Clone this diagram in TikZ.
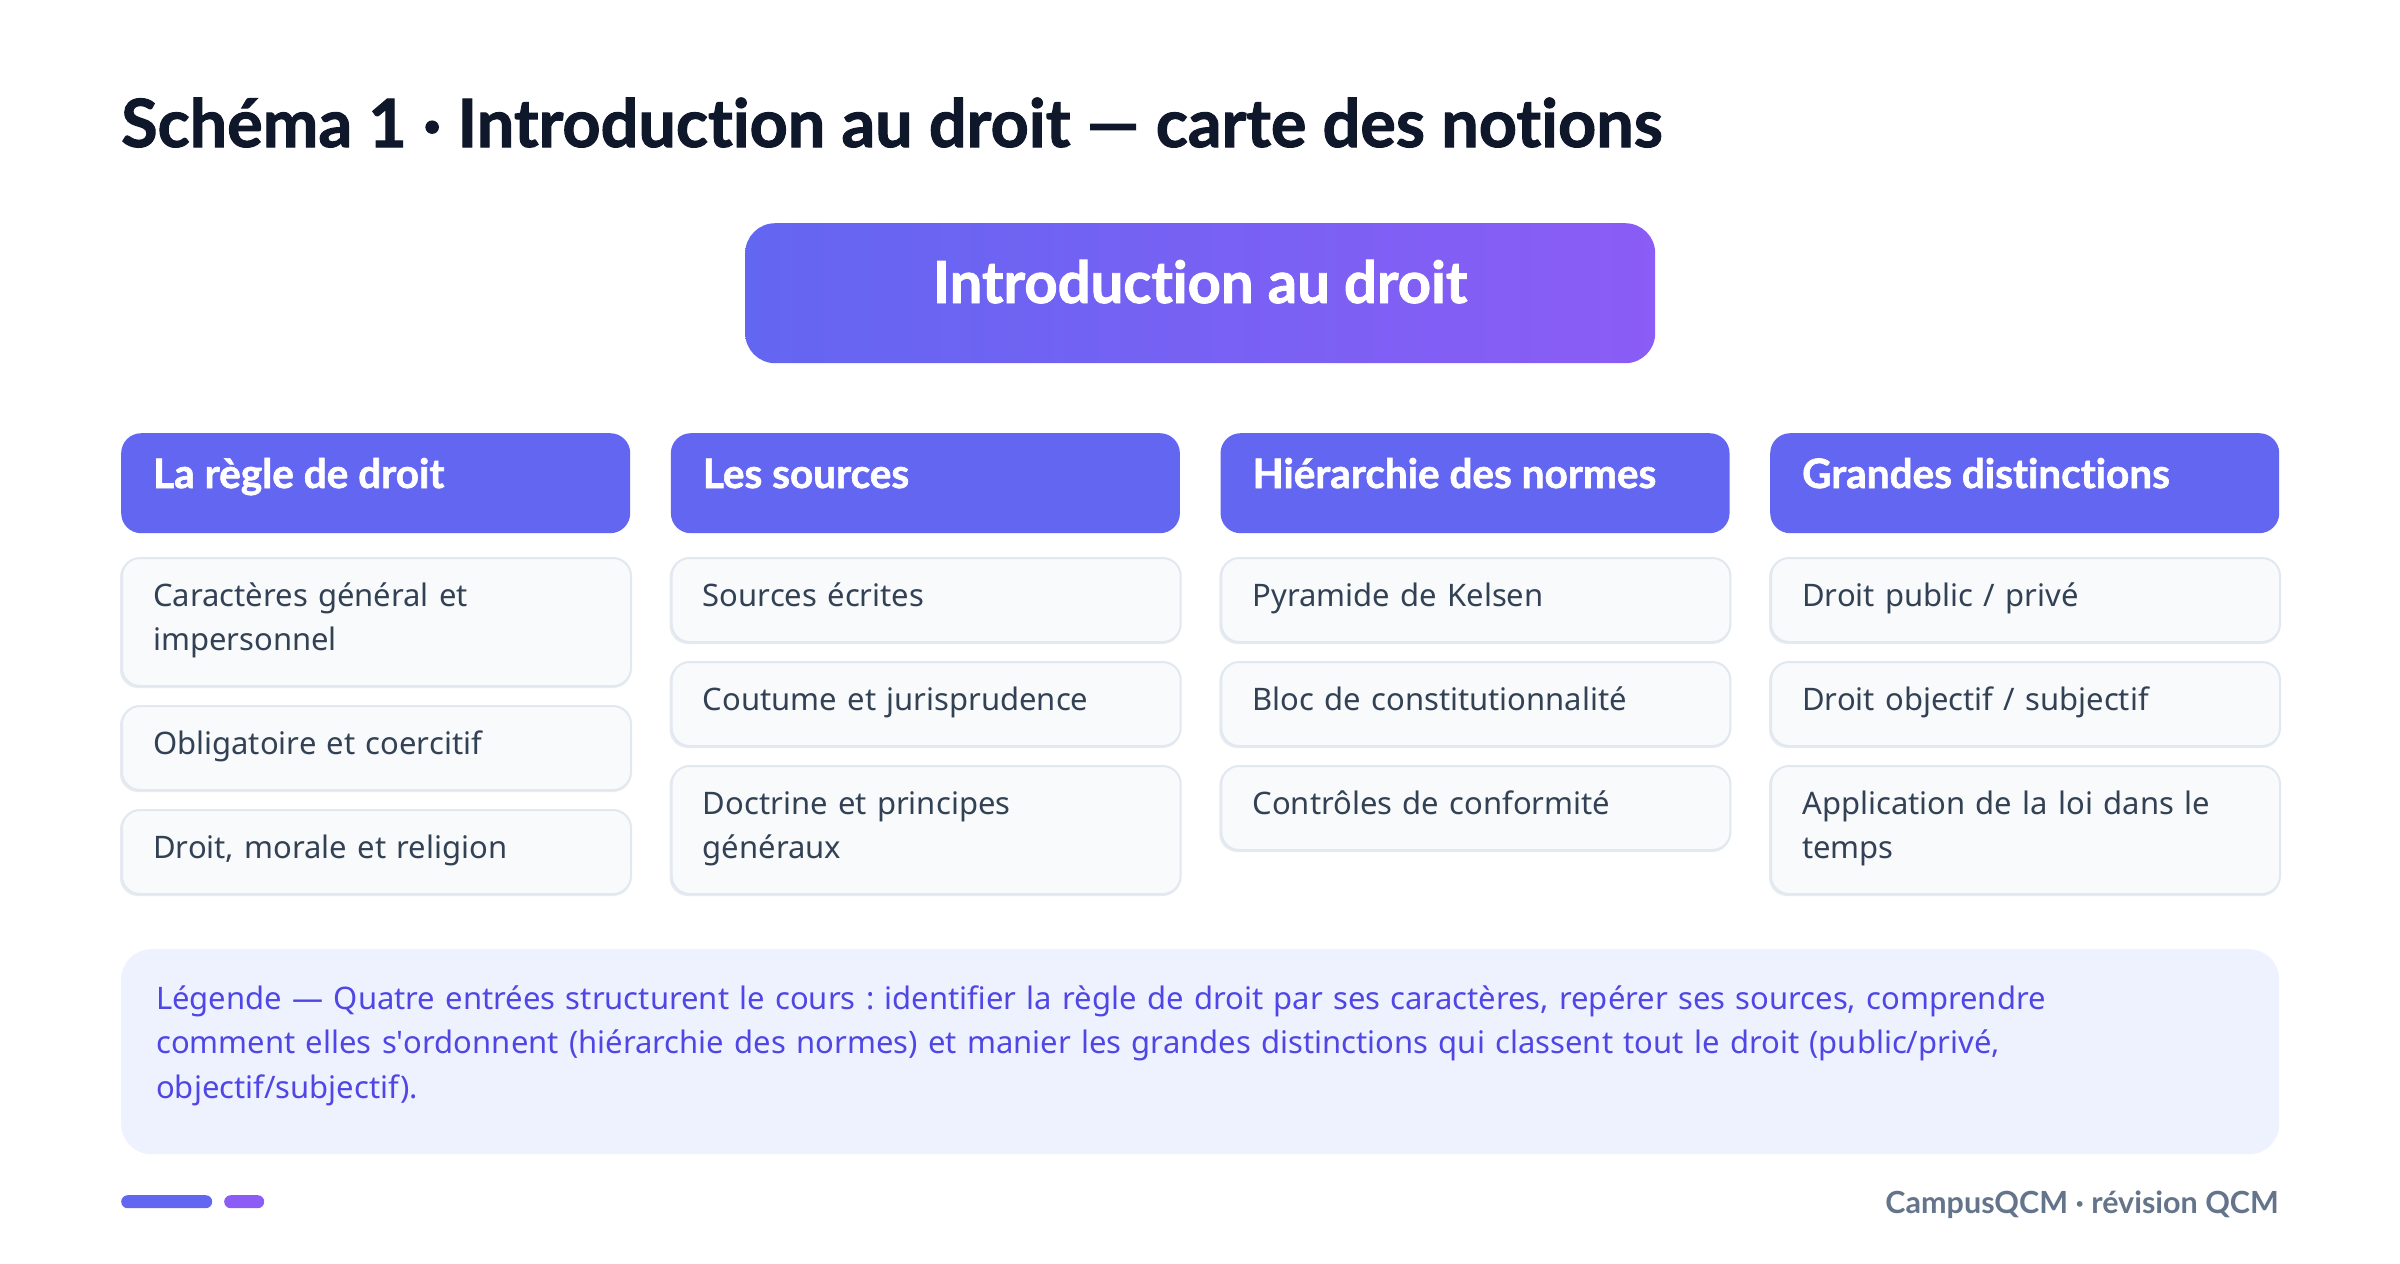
\documentclass[tikz,border=0pt]{standalone}
\usepackage{fontspec}
\setmainfont{Noto Sans}
\newfontfamily\headfont{Lato}[Ligatures=NoCommon, BoldFeatures={FakeBold=1.5}]
\newfontfamily\footfont{Lato}[Ligatures=NoCommon]
\usetikzlibrary{calc}
\definecolor{titlec}{HTML}{0F172A}
\definecolor{hdr}{HTML}{6366F1}
\definecolor{purp}{HTML}{8B5CF6}
\definecolor{itemfill}{HTML}{F8FAFC}
\definecolor{itemborder}{HTML}{E2E8F0}
\definecolor{itemshadow}{HTML}{E8ECF2}
\definecolor{itemtxt}{HTML}{334155}
\definecolor{legfill}{HTML}{EEF2FF}
\definecolor{legtxt}{HTML}{4F46E5}
\definecolor{footc}{HTML}{64748B}
\tikzset{
  colhead/.style={fill=hdr, rounded corners=20pt, minimum width=509pt, minimum height=100pt, anchor=north west, inner sep=0pt},
  headtext/.style={anchor=base west, text=white, font=\headfont\fontsize{40.5}{46}\selectfont\bfseries, inner sep=0pt},
  itembox/.style={fill=itemfill, draw=itemborder, line width=2pt, rounded corners=18pt, minimum width=509pt, anchor=north west, inner sep=0pt},
  itemtext/.style={anchor=north west, inner sep=0pt, text width=445pt, align=left, text=itemtxt, font=\fontsize{31}{44}\selectfont},
}
\begin{document}
\begin{tikzpicture}[x=1pt,y=-1pt]
\useasboundingbox[fill=white] (0,0) rectangle (2400,1263);
% title
\node[anchor=base west, inner sep=0pt, text=titlec, font=\headfont\fontsize{66.5}{72}\selectfont\bfseries] (title) at (121,147) {Schéma 1 · Introduction au droit — carte des notions};
% main box
\node[anchor=north west, minimum width=910pt, minimum height=140pt, rounded corners=30pt, inner sep=0pt, left color=hdr, right color=purp] (main) at (745,223) {};
\node[anchor=base, inner sep=0pt, text=white, font=\headfont\fontsize{58}{64}\selectfont\bfseries] (maintext) at (1200,303) {Introduction au droit};
% column headers
\foreach \i/\x/\t in {1/121/La règle de droit, 2/670.67/Les sources, 3/1220.33/Hiérarchie des normes, 4/1770/Grandes distinctions}{
  \node[colhead] (h\i) at (\x,433) {};
  \node[headtext] (ht\i) at ($(h\i.north west)+(32,55)$) {\t};
}
\newcommand{\itm}[5]{%
  \fill[itemshadow, rounded corners=18pt] ($(#3)+(-1,2)$) rectangle ++(511,#4+1);
  \node[itembox, minimum height=#4pt] (i#1#2) at (#3) {};
  \node[itemtext] (t#1#2) at ($(i#1#2.north west)+(32,18.2)$) {\strut #5};
}
\itm{1}{1}{121,557}{128}{Caractères général et\\impersonnel}
\itm{1}{2}{121,705}{84}{Obligatoire et coercitif}
\itm{1}{3}{121,809}{84}{Droit, morale et religion}
\itm{2}{1}{670.67,557}{84}{Sources écrites}
\itm{2}{2}{670.67,661}{84}{Coutume et jurisprudence}
\itm{2}{3}{670.67,765}{128}{Doctrine et principes\\généraux}
\itm{3}{1}{1220.33,557}{84}{Pyramide de Kelsen}
\itm{3}{2}{1220.33,661}{84}{Bloc de constitutionnalité}
\itm{3}{3}{1220.33,765}{84}{Contrôles de conformité}
\itm{4}{1}{1770,557}{84}{Droit public / privé}
\itm{4}{2}{1770,661}{84}{Droit objectif / subjectif}
\itm{4}{3}{1770,765}{128}{Application de la loi dans le\\temps}
% legend
\node[anchor=north west, fill=legfill, rounded corners=30pt, minimum width=2158pt, minimum height=205pt, inner sep=0pt] (leg) at (121,949) {};
\node[anchor=north west, inner sep=0pt, text width=2100pt, align=left, text=legtxt, font=\fontsize{31}{44.5}\selectfont\frenchspacing] (legtext) at ($(leg.north west)+(35,29)$) {\strut Légende — Quatre entrées structurent le cours : identifier la règle de droit par ses caractères, repérer ses sources, comprendre\\comment elles s\textquotesingle ordonnent (hiérarchie des normes) et manier les grandes distinctions qui classent tout le droit (public/privé,\\objectif/subjectif).};
% footer
\node[anchor=north west, fill=hdr, rounded corners=6.5pt, minimum width=91pt, minimum height=13pt, inner sep=0pt] (bar1) at (121,1195) {};
\node[anchor=north west, fill=purp, rounded corners=6.5pt, minimum width=40pt, minimum height=13pt, inner sep=0pt] (bar2) at (224,1195) {};
\node[anchor=base east, inner sep=0pt, text=footc, font=\footfont\fontsize{30.5}{36}\selectfont\bfseries] (foot) at (2279,1213) {CampusQCM · révision QCM};
\end{tikzpicture}
\end{document}
